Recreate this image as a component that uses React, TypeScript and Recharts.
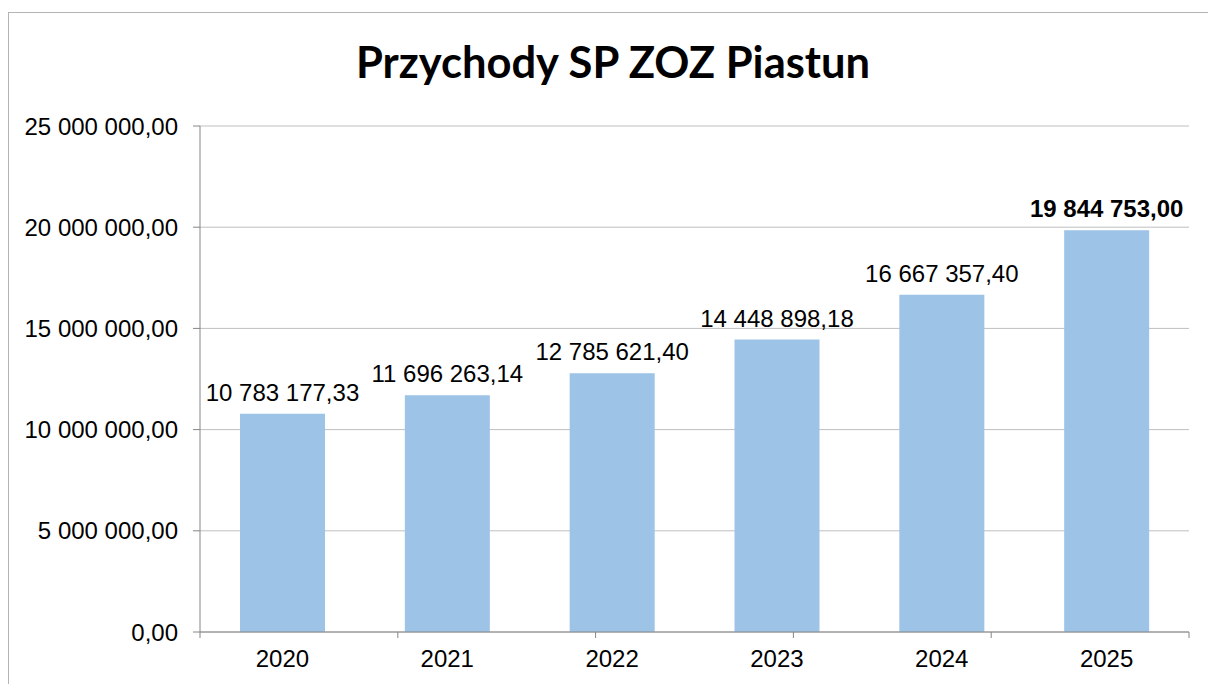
import { BarChart, Bar, XAxis, YAxis, CartesianGrid, LabelList } from 'recharts'

const years = ['2020', '2021', '2022', '2023', '2024', '2025']
const revenues = [10783177.33, 11696263.14, 12785621.4, 14448898.18, 16667357.4, 19844753.0]
const yTicks = [0, 5000000, 10000000, 15000000, 20000000, 25000000]

const data = years.map((year, i) => ({ year, value: revenues[i] }))
// category boundaries for the Excel-style tick marks between bars
const edgeTicks = [...years.map((_, i) => i), years.length]
const maxRevenue = Math.max(...revenues)

const font = '"Liberation Sans", Arial, sans-serif'
const axisColor = '#868686'

function formatPl(v: number) {
  const [whole, dec] = v.toFixed(2).split('.')
  return whole.replace(/\B(?=(\d{3})+(?!\d))/g, ' ') + ',' + dec
}

function BarValueLabel(props: any) {
  const { x, y, width, value } = props
  const highlight = value === maxRevenue
  return (
    <text
      x={x + width / 2}
      y={y - 13}
      textAnchor="middle"
      fontFamily={font}
      fontSize={24}
      fontWeight={highlight ? 700 : 400}
      fill="#000"
    >
      {formatPl(value)}
    </text>
  )
}

export default function App() {
  return (
    <div style={{ position: 'absolute', left: 0, top: 0, width: 1208, height: 684, overflow: 'hidden', background: '#fff' }}>
      <div style={{ position: 'absolute', left: 8, top: 12, width: 1400, height: 900, border: '1px solid #b4b4b4' }} />
      <svg width={1208} height={684} style={{ position: 'absolute', left: 0, top: 0 }}>
        <text x={613} y={78} textAnchor="middle" fontFamily="Lato, sans-serif" fontWeight={700} fontSize={43.5} fill="#000">
          Przychody SP ZOZ Piastun
        </text>
      </svg>
      <div style={{ position: 'absolute', left: 0, top: 0 }}>
        <BarChart width={1208} height={684} data={data} margin={{ top: 126, right: 19, bottom: 12, left: 0 }}>
          <CartesianGrid vertical={false} stroke="#bfbfbf" xAxisId="cat" />
          <XAxis
            xAxisId={0}
            type="number"
            domain={[0, years.length]}
            ticks={edgeTicks}
            height={1}
            axisLine={{ stroke: axisColor }}
            tickLine={{ stroke: axisColor }}
            tickSize={6}
            tickFormatter={() => ''}
          />
          <XAxis
            xAxisId="cat"
            dataKey="year"
            height={39}
            axisLine={false}
            tickLine={false}
            tickSize={6}
            tickMargin={11}
            tick={{ fill: '#000', fontSize: 24, fontFamily: font }}
            interval={0}
          />
          <YAxis
            width={200}
            domain={[0, 25000000]}
            ticks={yTicks}
            interval={0}
            tickFormatter={formatPl}
            axisLine={{ stroke: axisColor }}
            tickLine={{ stroke: axisColor }}
            tickSize={7}
            tickMargin={15}
            tick={{ fill: '#000', fontSize: 24, fontFamily: font }}
          />
          <Bar xAxisId="cat" dataKey="value" fill="#9dc3e6" barSize={85} isAnimationActive={false}>
            <LabelList dataKey="value" content={BarValueLabel} />
          </Bar>
        </BarChart>
      </div>
    </div>
  )
}
